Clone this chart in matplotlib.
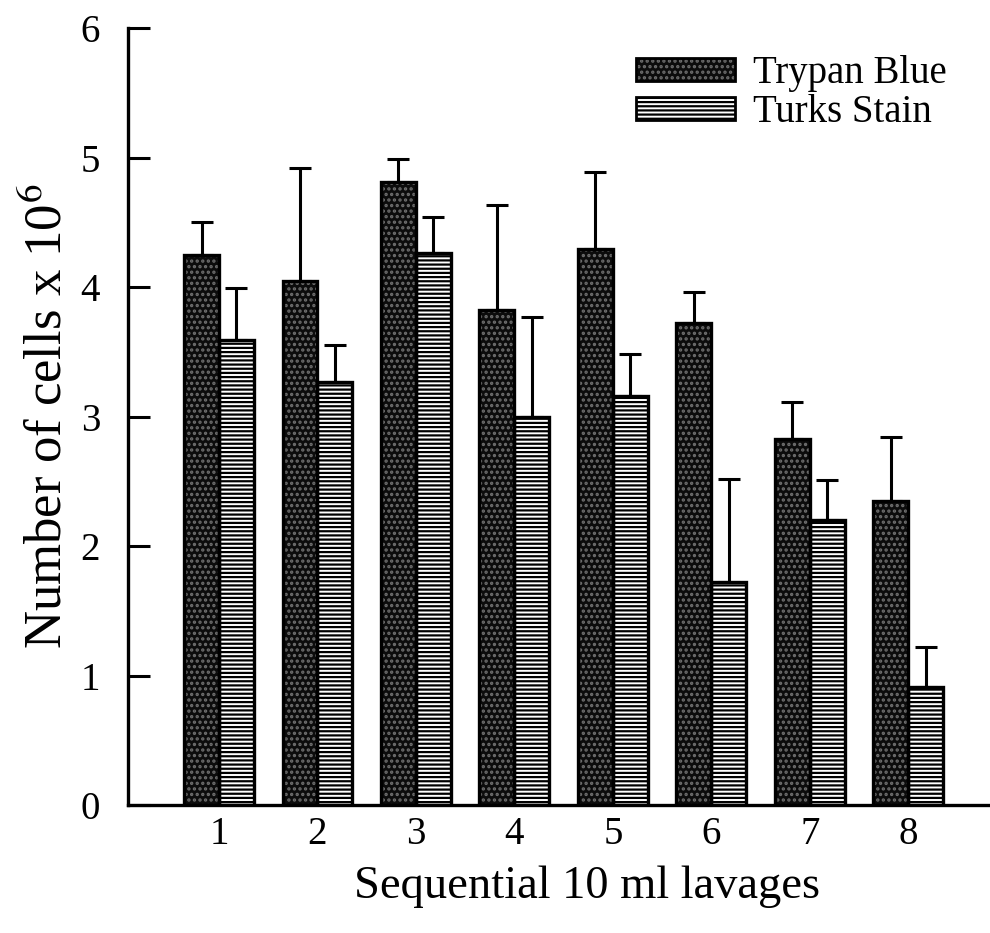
import numpy as np
import matplotlib.pyplot as plt
from matplotlib.patches import Patch

# cell counts per lavage (x 10^6), mean and upper error
lavages = ['1', '2', '3', '4', '5', '6', '7', '8']
trypan_blue = [4.25, 4.05, 4.81, 3.82, 4.29, 3.72, 2.83, 2.35]
trypan_blue_err = [0.25, 0.87, 0.18, 0.81, 0.60, 0.24, 0.28, 0.49]
turks_stain = [3.59, 3.27, 4.26, 3.00, 3.16, 1.72, 2.20, 0.91]
turks_stain_err = [0.40, 0.28, 0.28, 0.77, 0.32, 0.80, 0.31, 0.31]

plt.rcParams['font.family'] = ['Liberation Serif', 'DejaVu Serif']
plt.rcParams['hatch.linewidth'] = 1.6
plt.rcParams['mathtext.fontset'] = 'stix'

fig = plt.figure(figsize=(9.9, 9.33), dpi=100)
ax = fig.add_axes([0.1293, 0.137, 0.8707, 0.833])

x = np.arange(1, len(lavages) + 1)
w = 0.355

dark_face = '#0c0c0c'
dot_color = '#6e6e6e'

# dotted dark bars: hatch pass then outline pass
ax.bar(x - w / 2, trypan_blue, w, color=dark_face, edgecolor=dot_color,
       hatch='...', linewidth=0, zorder=2)
ax.bar(x - w / 2, trypan_blue, w, fill=False, edgecolor='black',
       linewidth=2.4, zorder=3)
# horizontally lined light bars
ax.bar(x + w / 2, turks_stain, w, color='white', edgecolor='black',
       hatch='----', linewidth=0, zorder=2)
ax.bar(x + w / 2, turks_stain, w, fill=False, edgecolor='black',
       linewidth=2.4, zorder=3)

zeros = np.zeros(len(x))
ax.errorbar(x - w / 2, trypan_blue, yerr=[zeros, trypan_blue_err], fmt='none',
            ecolor='black', elinewidth=2.2, capsize=8, capthick=2.2, zorder=1)
ax.errorbar(x + w / 2, turks_stain, yerr=[zeros, turks_stain_err], fmt='none',
            ecolor='black', elinewidth=2.2, capsize=8, capthick=2.2, zorder=1)

ax.set_xlim(0.076, 8.83)
ax.set_ylim(0, 6)
ax.set_xticks(x)
ax.set_xticklabels(lavages)
ax.set_yticks(range(0, 7))

for side in ['top', 'right']:
    ax.spines[side].set_visible(False)
for side in ['left', 'bottom']:
    ax.spines[side].set_linewidth(2.4)

ax.tick_params(axis='y', direction='in', length=16, width=2.2, pad=20,
               labelsize=28)
ax.tick_params(axis='x', length=0, pad=8, labelsize=28)

ax.set_xlabel('Sequential 10 ml lavages', fontsize=33.5, labelpad=8)
ax.xaxis.set_label_coords(0.532, -0.077)
ax.set_ylabel(r'Number of cells x 10$^6$', fontsize=38, labelpad=6)

# legend keys built from a fill patch plus an outline patch
tb_fill = Patch(facecolor=dark_face, edgecolor=dot_color, hatch='...', linewidth=0)
tb_edge = Patch(fill=False, edgecolor='black', linewidth=2)
ts_fill = Patch(facecolor='white', edgecolor='black', hatch='----', linewidth=0)
ts_edge = Patch(fill=False, edgecolor='black', linewidth=2)
ax.legend([(tb_fill, tb_edge), (ts_fill, ts_edge)], ['Trypan Blue', 'Turks Stain'],
          loc='upper right', bbox_to_anchor=(0.99, 1.01), frameon=False,
          fontsize=28, handlelength=2.55, handleheight=0.55, handletextpad=0.45,
          labelspacing=0.05)

fig.savefig('out.png', dpi=100)
